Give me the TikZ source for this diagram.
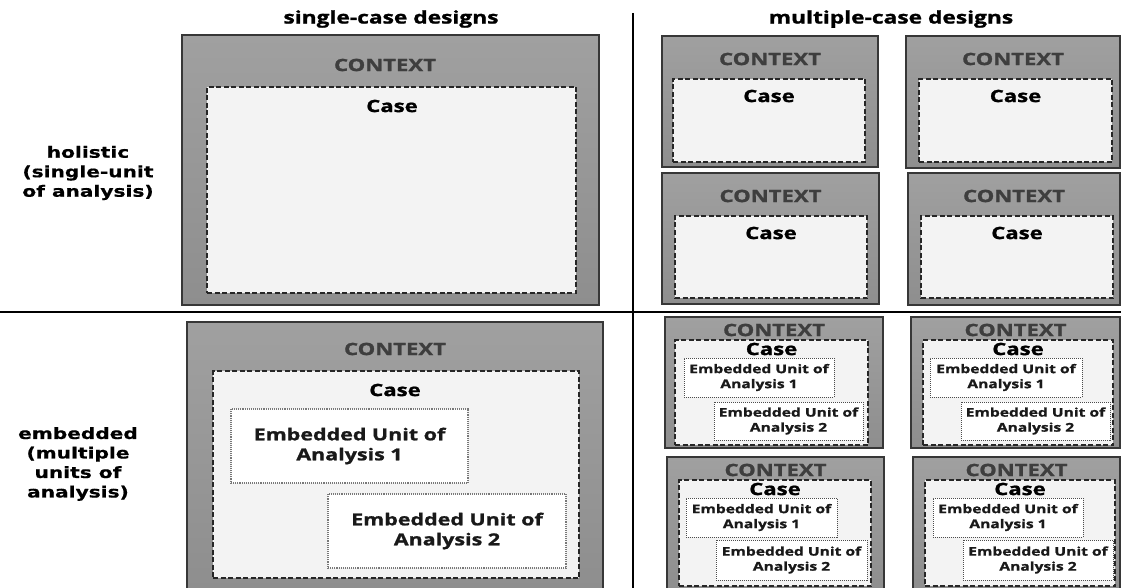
\documentclass[tikz,border=0pt]{standalone}
\usepackage{fontspec}
\setmainfont{Open Sans}[FakeStretch=1.3, BoldFeatures={FakeBold=1.2}]
\newfontfamily\rowfont{DejaVu Sans}[FakeStretch=1.3, BoldFeatures={FakeBold=0.6}]
\usetikzlibrary{positioning,calc}

\definecolor{ctxtop}{RGB}{160,160,160}
\definecolor{ctxbot}{RGB}{142,142,142}
\definecolor{ctxline}{RGB}{55,55,55}
\definecolor{ctxtext}{RGB}{62,62,62}
\definecolor{casefill}{RGB}{243,243,243}
\definecolor{embline}{RGB}{120,120,120}

\tikzset{
  ctxbox/.style={draw=ctxline, line width=1.4pt, top color=ctxtop, bottom color=ctxbot, inner sep=0pt, outer sep=0pt},
  casebox/.style={draw=black!85, fill=casefill, line width=1.6pt, dash pattern=on 5pt off 2.5pt, inner sep=0pt, outer sep=0pt},
  embbox/.style={draw=embline, fill=white, line width=1.1pt, densely dotted, inner sep=0pt, outer sep=0pt},
  smallemb/.style={draw=black!70, fill=white, line width=1pt, densely dotted, inner sep=0pt, outer sep=0pt},
  ctxlabel/.style={text=ctxtext, font=\fontsize{17}{19}\selectfont\bfseries, inner sep=0pt},
  caselabel/.style={text=black, font=\fontsize{17}{19}\selectfont\bfseries, inner sep=0pt},
  emblabel/.style={text=black!90, align=center, font=\fontsize{16.5}{20}\selectfont\bfseries, inner sep=0pt},
  smallemblabel/.style={text=black!90, align=center, font=\fontsize{12}{15}\selectfont\bfseries, inner sep=0pt},
  titlelabel/.style={font=\fontsize{17.5}{20}\selectfont\bfseries, inner sep=0pt},
  rowlabel/.style={align=center, font=\fontsize{15.5}{19.5}\rowfont\bfseries, inner sep=0pt},
  divider/.style={draw=black, line width=2pt}
}

% rectangular region given by its corners (x1,y1) and (x2,y2)
\newcommand{\regionbox}[6]{%
  \pgfmathsetmacro{\bw}{#5-#3}\pgfmathsetmacro{\bh}{#6-#4}%
  \node[#1, anchor=north west, minimum width=\bw pt, minimum height=\bh pt] (#2) at (#3,#4) {};}

\begin{document}
\begin{tikzpicture}[x=1pt,y=-1pt]
\useasboundingbox (0,0) rectangle (1121,588);
\fill[white] (0,0) rectangle (1121,588);

% column and row headings
\node[titlelabel] (tsingle) at (391,19) {single-case designs};
\node[titlelabel] (tmulti) at (891,19) {multiple-case designs};
\node[rowlabel] (rholistic) at (88,173) {holistic\\(single-unit\\of analysis)};
\node[rowlabel] (rembedded) at (78,464) {embedded\\(multiple\\units of\\analysis)};

% dividing lines
\coordinate (vtop) at (633,13);
\coordinate (vbot) at (633,588);
\coordinate (hleft) at (0,312);
\coordinate (hright) at (1121,312);
\draw[divider] (vtop) -- (vbot);
\draw[divider] (hleft) -- (hright);

% holistic, single case
\regionbox{ctxbox}{c11}{182}{35}{599}{305}
\regionbox{casebox}{k11}{207}{87}{576}{293}
\node[ctxlabel] (c11t) at (385,65) {CONTEXT};
\node[caselabel] (k11t) at (392,106) {Case};

% holistic, multiple cases
\foreach \n/\xa/\ya/\xb/\yb/\ka/\kb/\kc/\kd in {
  a/662/36/878/167/673/79/865/162,
  b/906/36/1120/168/919/79/1112/162,
  c/662/173/879/304/675/216/867/298,
  d/908/173/1120/305/921/216/1113/298}{
  \regionbox{ctxbox}{c12\n}{\xa}{\ya}{\xb}{\yb}
  \regionbox{casebox}{k12\n}{\ka}{\kb}{\kc}{\kd}
  \node[ctxlabel] (c12\n t) at ($(c12\n.north)+(0,23)$) {CONTEXT};
  \node[caselabel] (k12\n t) at ($(k12\n.north)+(0,17)$) {Case};
}

% embedded, single case
\regionbox{ctxbox}{c21}{187}{322}{603}{590}
\regionbox{casebox}{k21}{213}{371}{579}{578}
\node[ctxlabel] (c21t) at (395,349) {CONTEXT};
\node[caselabel] (k21t) at (395,390) {Case};
\regionbox{embbox}{e21a}{231}{409}{468}{483}
\regionbox{embbox}{e21b}{328}{494}{566}{568}
\node[emblabel] (e21at) at (e21a) {Embedded Unit of\\Analysis 1};
\node[emblabel] (e21bt) at (e21b) {Embedded Unit of\\Analysis 2};

% embedded, multiple cases
\foreach \n/\xa/\ya/\xb/\yb/\ka/\kb/\kc/\kd/\ea/\eb/\ec/\ed/\fa/\fb/\fc/\fd in {
  a/665/317/883/448/675/340/868/445/684/358/834/397/714/402/863/440,
  b/911/317/1120/448/923/340/1113/445/930/358/1082/397/961/402/1110/440,
  c/667/457/884/590/679/480/871/586/686/498/837/537/716/540/867/580,
  d/913/457/1120/590/925/480/1115/586/933/498/1083/537/963/540/1113/580}{
  \regionbox{ctxbox}{c22\n}{\xa}{\ya}{\xb}{\yb}
  \regionbox{casebox}{k22\n}{\ka}{\kb}{\kc}{\kd}
  \node[ctxlabel] (c22\n t) at ($(c22\n.north)+(0,13)$) {CONTEXT};
  \node[caselabel] (k22\n t) at ($(k22\n.north)+(0,9)$) {Case};
  \regionbox{smallemb}{e22\n a}{\ea}{\eb}{\ec}{\ed}
  \regionbox{smallemb}{e22\n b}{\fa}{\fb}{\fc}{\fd}
  \node[smallemblabel] (e22\n at) at (e22\n a) {Embedded Unit of\\Analysis 1};
  \node[smallemblabel] (e22\n bt) at (e22\n b) {Embedded Unit of\\Analysis 2};
}
\end{tikzpicture}
\end{document}
